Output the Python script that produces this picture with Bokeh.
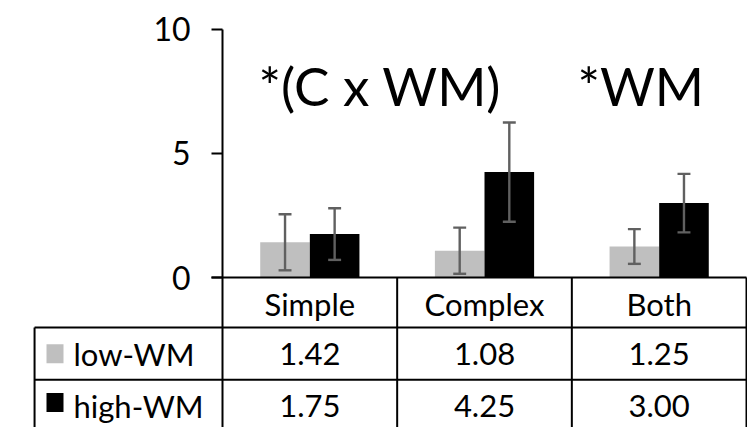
from bokeh.plotting import figure
from bokeh.core.properties import value
from bokeh.embed import file_html
from bokeh.resources import INLINE

# ---- data ----
categories = ["Simple", "Complex", "Both"]
series_names = ["low-WM", "high-WM"]
low_wm = [1.42, 1.08, 1.25]
high_wm = [1.75, 4.25, 3.00]
low_err = [1.13, 0.93, 0.70]
high_err = [1.04, 2.00, 1.18]
y_ticks = [0, 5, 10]
y_tick_labels = ["0", "5", "10"]
annotations = ["*(C x WM)", "*WM"]

FONT = "Lato"
GRAY = "#bfbfbf"
BLACK = "#000000"
ERR = "#606060"

x = list(range(len(categories)))
off = 0.142
bw = 0.284

p = figure(width=747, height=427, output_backend="svg", toolbar_location=None,
           x_range=(-1.771, 2.5057), y_range=(-6.048, 11.169),
           x_axis_location=None, y_axis_location=None, min_border=0)
p.outline_line_color = None
p.grid.visible = False
p.background_fill_color = "white"

# bars
lx = [i - off for i in x]
hx = [i + off for i in x]
p.vbar(x=lx, top=low_wm, width=bw, bottom=0, fill_color=GRAY, line_color=None)
p.vbar(x=hx, top=high_wm, width=bw, bottom=0, fill_color=BLACK, line_color=None)

# error bars
cap = 0.037
for xs, v, e in ((lx, low_wm, low_err), (hx, high_wm, high_err)):
    lo = [a - b for a, b in zip(v, e)]
    hi = [a + b for a, b in zip(v, e)]
    p.segment(x0=xs, y0=lo, x1=xs, y1=hi, line_color=ERR, line_width=2.4)
    p.segment(x0=[c - cap for c in xs], y0=lo, x1=[c + cap for c in xs], y1=lo, line_color=ERR, line_width=2.4)
    p.segment(x0=[c - cap for c in xs], y0=hi, x1=[c + cap for c in xs], y1=hi, line_color=ERR, line_width=2.4)

# y axis (manual, inside the full-canvas frame)
ax_x = -0.5
tick_len = 0.063
p.segment(x0=[ax_x], y0=[y_ticks[0]], x1=[ax_x], y1=[y_ticks[-1]], line_color="black", line_width=2)
p.segment(x0=[ax_x - tick_len] * len(y_ticks), y0=y_ticks, x1=[ax_x] * len(y_ticks), y1=y_ticks,
          line_color="black", line_width=2)
p.text(x=[ax_x - 0.183] * len(y_ticks), y=y_ticks, text=y_tick_labels, text_font=value(FONT),
       text_font_size="32px", text_align="right", text_baseline="middle", text_color="black")

# annotations
p.text(x=[-0.294, 1.532], y=[7.75, 7.75], text=annotations, text_font=value(FONT),
       text_font_size="53px", text_align="left", text_baseline="middle", text_color="black")

# data table
row_edges = [0, -2.02, -4.12, -6.3]
left_edge = -1.576
right_edge = len(categories) - 0.5
# horizontal lines
p.segment(x0=[ax_x - tick_len], y0=[0], x1=[right_edge], y1=[0], line_color="black", line_width=2)
p.segment(x0=[left_edge] * 2, y0=row_edges[1:3], x1=[right_edge] * 2, y1=row_edges[1:3],
          line_color="black", line_width=2)
# vertical lines
vx = [i - 0.5 for i in x] + [right_edge]
p.segment(x0=vx, y0=[0] * len(vx), x1=vx, y1=[row_edges[-1]] * len(vx), line_color="black", line_width=2)
p.segment(x0=[left_edge], y0=[row_edges[1]], x1=[left_edge], y1=[row_edges[-1]], line_color="black", line_width=2)

mid_off = 1.05
# category row
p.text(x=x, y=[row_edges[0] - mid_off] * len(x), text=categories, text_font=value(FONT),
       text_font_size="31px", text_align="center", text_baseline="middle", text_color="black")
# value rows
p.text(x=x, y=[row_edges[1] - mid_off] * len(x), text=[f"{v:.2f}" for v in low_wm], text_font=value(FONT),
       text_font_size="31px", text_align="center", text_baseline="middle", text_color="black")
p.text(x=x, y=[row_edges[2] - mid_off] * len(x), text=[f"{v:.2f}" for v in high_wm], text_font=value(FONT),
       text_font_size="31px", text_align="center", text_baseline="middle", text_color="black")
# legend keys + labels
key_x = -1.459
p.rect(x=[key_x, key_x], y=[(row_edges[1] + row_edges[2]) / 2, -5.04],
       width=17, height=19, width_units="screen", height_units="screen",
       fill_color=[GRAY, BLACK], line_color=None)
p.text(x=[-1.353, -1.353], y=[row_edges[1] - mid_off, row_edges[2] - mid_off], text=series_names,
       text_font=value(FONT), text_font_size="31px", text_align="left", text_baseline="middle",
       text_color="black")

open("out.html", "w").write(file_html(p, INLINE))
